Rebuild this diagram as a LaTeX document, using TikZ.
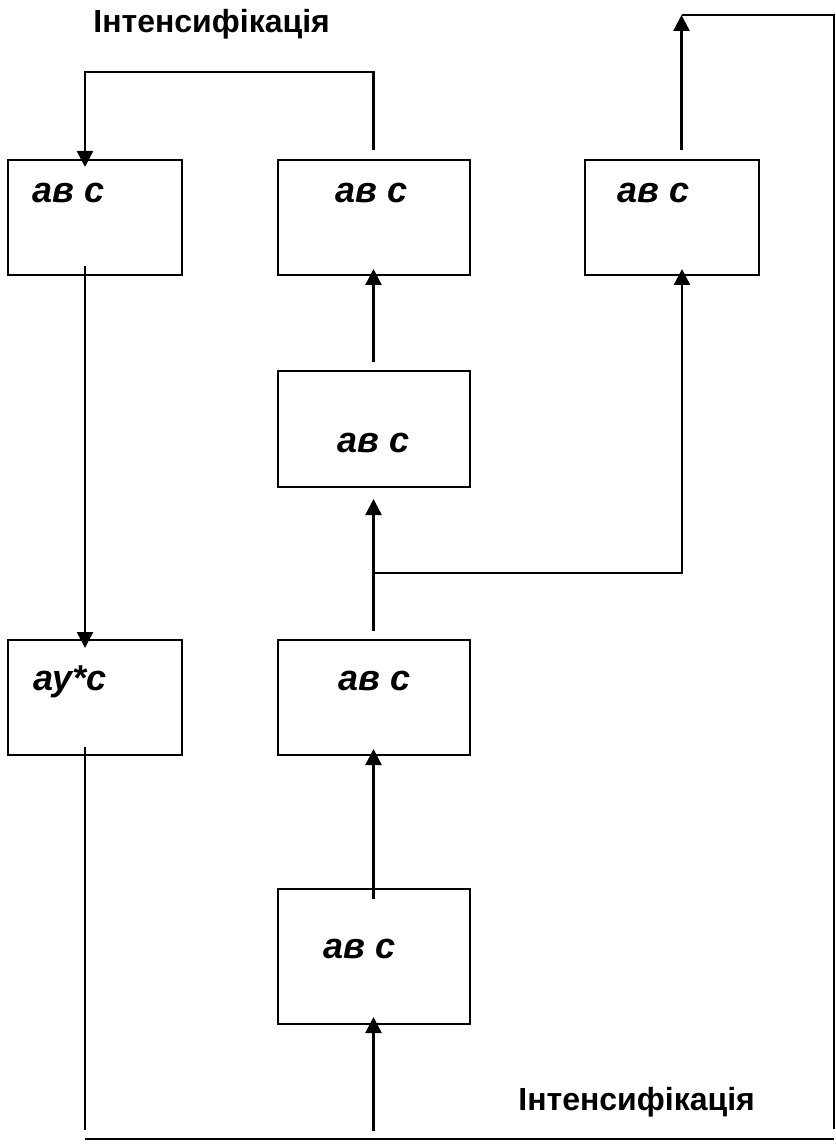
\documentclass[tikz,border=0pt]{standalone}
\usepackage{fontspec}
\setmainfont{Liberation Sans}
\usetikzlibrary{arrows.meta}

\begin{document}
\begin{tikzpicture}[
    x=0.5pt, y=-0.5pt,
    stagebox/.style={rectangle, draw=black, line width=1pt, minimum width=96pt, minimum height=57.5pt, inner sep=0pt},
    sidebox/.style={stagebox, minimum width=87pt},
    stagetext/.style={anchor=base west, inner sep=0pt, font=\fontsize{18}{20}\selectfont\bfseries\itshape},
    looplabel/.style={anchor=base west, inner sep=0pt, font=\fontsize{16}{18}\selectfont\bfseries},
    arrow/.style={-{Triangle[length=8pt, width=8pt]}, line width=1.2pt},
    line/.style={line width=1pt}
]
\useasboundingbox (0,0) rectangle (835,1144);

% === Labels ===
\node[looplabel] (int-top) at (93,33) {Інтенсифікація};
\node[looplabel] (int-bot) at (518,1110) {Інтенсифікація};

% === Top row ===
\node[sidebox] (a) at (95,217.5) {};
\node[stagebox] (b) at (373.5,217.5) {};
\node[sidebox] (c) at (671.5,217.5) {};
\node[stagetext] (a-txt) at (32,203) {ав с};
\node[stagetext] (b-txt) at (335,203) {ав с};
\node[stagetext] (c-txt) at (617,203) {ав с};

% === Middle column ===
\node[stagebox, minimum height=58pt] (d) at (373.5,429) {};
\node[stagetext] (d-txt) at (337,452) {ав с};
\node[sidebox] (e) at (95,697.5) {};
\node[stagebox] (f) at (373.5,697.5) {};
\node[stagetext] (e-txt) at (33,690) {ау*с};
\node[stagetext] (f-txt) at (338,690) {ав с};
\node[stagebox, minimum height=67.5pt] (g) at (373.5,956.5) {};
\node[stagetext] (g-txt) at (323,958) {ав с};

% === Free ends of the loop ===
\coordinate (split) at (373.5,573);
\coordinate (loop-end) at (834,1129);
\coordinate (base-l) at (85,1139);
\coordinate (base-r) at (834,1139);
\coordinate (ret-end) at (85,1130);
\coordinate (in-start) at (373.5,1131);

% B -> A over the top
\draw[arrow] ([yshift=4.5pt]b.north) -- ++(0,-78) -| ([xshift=-5pt,yshift=-4pt]a.north);
% A -> E
\draw[arrow] ([xshift=-5pt,yshift=5pt]a.south) -- ([xshift=-5pt,yshift=-4.5pt]e.north);
% D -> B
\draw[arrow] ([yshift=4pt]d.north) -- ([yshift=3.5pt]b.south);
% F -> D, branch to C
\draw[arrow] ([yshift=4pt]f.north) -- ([yshift=-5.5pt]d.south);
\draw[arrow] (split) -| ([xshift=5.25pt,yshift=3.5pt]c.south);
% G -> F
\draw[arrow] ([yshift=-5.5pt]g.north) -- ([yshift=3.5pt]f.south);
% input -> G
\draw[arrow] (in-start) -- ([yshift=4pt]g.south);
% C -> out, feedback loop
\draw[arrow] ([xshift=5pt,yshift=4.5pt]c.north) -- ++(0,-135) coordinate (out-top);
\draw[line] (out-top) -| (loop-end);
\draw[line] (base-l) -- (base-r);
\draw[line] ([xshift=-5pt,yshift=4.5pt]e.south) -- (ret-end);

\end{tikzpicture}
\end{document}
